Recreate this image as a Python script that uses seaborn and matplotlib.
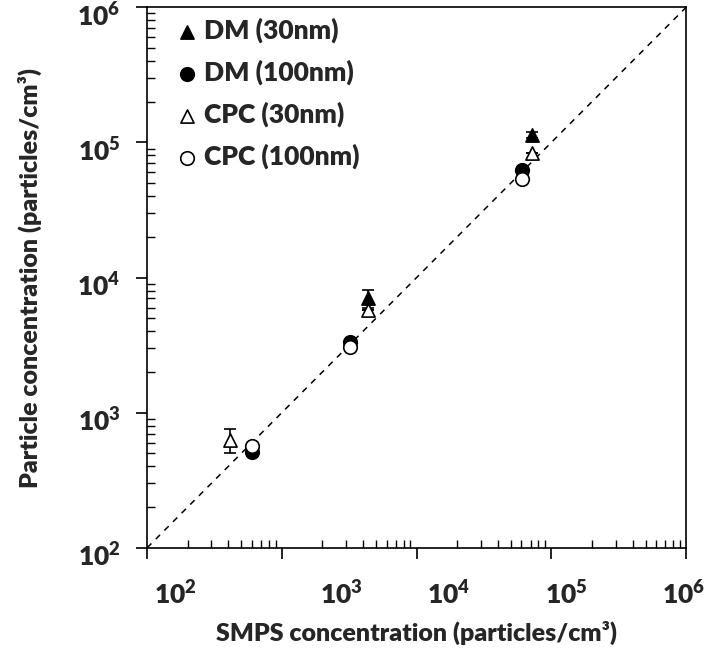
import numpy as np
import pandas as pd
import matplotlib
matplotlib.use("Agg")
import matplotlib.pyplot as plt
import matplotlib.ticker as mticker
from matplotlib.transforms import offset_copy
import seaborn as sns

dm30_x = [4375, 72300]
dm30_y = [7020, 113000]
dm30_err = [1050, 6000]

dm100_x = [597, 3200, 60900]
dm100_y = [515, 3350, 62400]

cpc30_x = [413, 4375, 72300]
cpc30_y = [630, 5750, 82800]
cpc30_err = [125, 0, 0]

cpc100_x = [597, 3200, 60900]
cpc100_y = [568, 3050, 53200]

series_names = ["DM (30nm)", "DM (100nm)", "CPC (30nm)", "CPC (100nm)"]
decades = [1e2, 1e3, 1e4, 1e5, 1e6]
tick_text = ["10$^{2}$", "10$^{3}$", "10$^{4}$", "10$^{5}$", "10$^{6}$"]
# the x labels in the original sit off their ticks
xlabel_spots = [10**2.21, 10**3.44, 10**4.24, 10**5.11, 10**5.98]

WEIGHT = "heavy"

sns.set_theme(style="ticks")
plt.rcParams["font.family"] = ["Lato", "DejaVu Sans"]
plt.rcParams["font.weight"] = WEIGHT
plt.rcParams["mathtext.fontset"] = "custom"
plt.rcParams["mathtext.rm"] = "Lato:heavy"
plt.rcParams["mathtext.it"] = "Lato:heavy"
plt.rcParams["mathtext.bf"] = "Lato:heavy"
plt.rcParams["mathtext.default"] = "rm"

FS = 19
LABEL_FS = 18

df = pd.concat([
    pd.DataFrame({"smps": dm30_x, "conc": dm30_y, "series": series_names[0]}),
    pd.DataFrame({"smps": dm100_x, "conc": dm100_y, "series": series_names[1]}),
    pd.DataFrame({"smps": cpc30_x, "conc": cpc30_y, "series": series_names[2]}),
    pd.DataFrame({"smps": cpc100_x, "conc": cpc100_y, "series": series_names[3]}),
], ignore_index=True)

fig = plt.figure(figsize=(7.14, 6.6), dpi=100)
ax = fig.add_axes([0.206, 0.170, 0.755, 0.819])

# 1:1 line
ax.plot([1e2, 1e6], [1e2, 1e6], color="black", lw=1.1, ls=(0, (4, 4)), zorder=1)

# error bars
ax.errorbar(dm30_x, dm30_y, yerr=dm30_err, fmt="none", ecolor="black",
            elinewidth=1.2, capsize=4, capthick=1.2, zorder=2)
ax.errorbar(cpc30_x, cpc30_y, yerr=cpc30_err, fmt="none", ecolor="black",
            elinewidth=1.2, capsize=4, capthick=1.2, zorder=2)

styles = {
    "DM (30nm)": dict(marker="^", facecolor="black", s=90),
    "DM (100nm)": dict(marker="o", facecolor="black", s=95),
    "CPC (30nm)": dict(marker="^", facecolor="white", s=90),
    "CPC (100nm)": dict(marker="o", facecolor="white", s=95),
}
for i, name in enumerate(series_names):
    st = styles[name]
    sns.scatterplot(data=df[df.series == name], x="smps", y="conc", ax=ax,
                    marker=st["marker"], color=st["facecolor"], edgecolor="black",
                    linewidth=1.2, s=st["s"], label=name, zorder=3 + i)

ax.set_xscale("log")
ax.set_yscale("log")
ax.set_xlim(1e2, 1e6)
ax.set_ylim(1e2, 1e6)

for sp in ax.spines.values():
    sp.set_linewidth(1.2)
    sp.set_color("black")
    sp.set_visible(True)

ax.xaxis.set_major_locator(mticker.FixedLocator(decades))
ax.yaxis.set_major_locator(mticker.FixedLocator(decades))
ax.xaxis.set_minor_locator(mticker.LogLocator(base=10, subs=np.arange(2, 10), numticks=20))
ax.yaxis.set_minor_locator(mticker.LogLocator(base=10, subs=np.arange(2, 10), numticks=20))
ax.xaxis.set_minor_formatter(mticker.NullFormatter())
ax.yaxis.set_minor_formatter(mticker.NullFormatter())
ax.xaxis.set_major_formatter(mticker.NullFormatter())
ax.yaxis.set_major_formatter(mticker.NullFormatter())

ax.tick_params(which="major", direction="out", length=8, width=1.2, color="black")
ax.tick_params(which="minor", direction="in", length=6, width=1.0, color="black")

# y labels sit a little under their ticks in the original
ytrans = offset_copy(ax.get_yaxis_transform(), fig=fig, x=-19, y=-6, units="points")
for val, txt in zip(decades, tick_text):
    ax.text(0, val, txt, transform=ytrans, ha="right", va="center",
            fontsize=FS, fontweight=WEIGHT)

for pos, txt in zip(xlabel_spots, tick_text):
    ax.text(pos, -0.085, txt, transform=ax.get_xaxis_transform(),
            ha="center", va="center", fontsize=FS, fontweight=WEIGHT)

ax.set_xlabel("SMPS concentration (particles/cm³)", fontsize=LABEL_FS,
              fontweight=WEIGHT, labelpad=41)
ax.set_ylabel("Particle concentration (particles/cm³)", fontsize=LABEL_FS,
              fontweight=WEIGHT, labelpad=64)

leg = ax.legend(loc="upper left", frameon=False, fontsize=FS, handletextpad=0.05,
                labelspacing=0.62, borderaxespad=0.0, handlelength=1.2,
                bbox_to_anchor=(0.025, 1.0))
for t in leg.get_texts():
    t.set_fontweight(WEIGHT)

fig.savefig("out.png", dpi=100)
